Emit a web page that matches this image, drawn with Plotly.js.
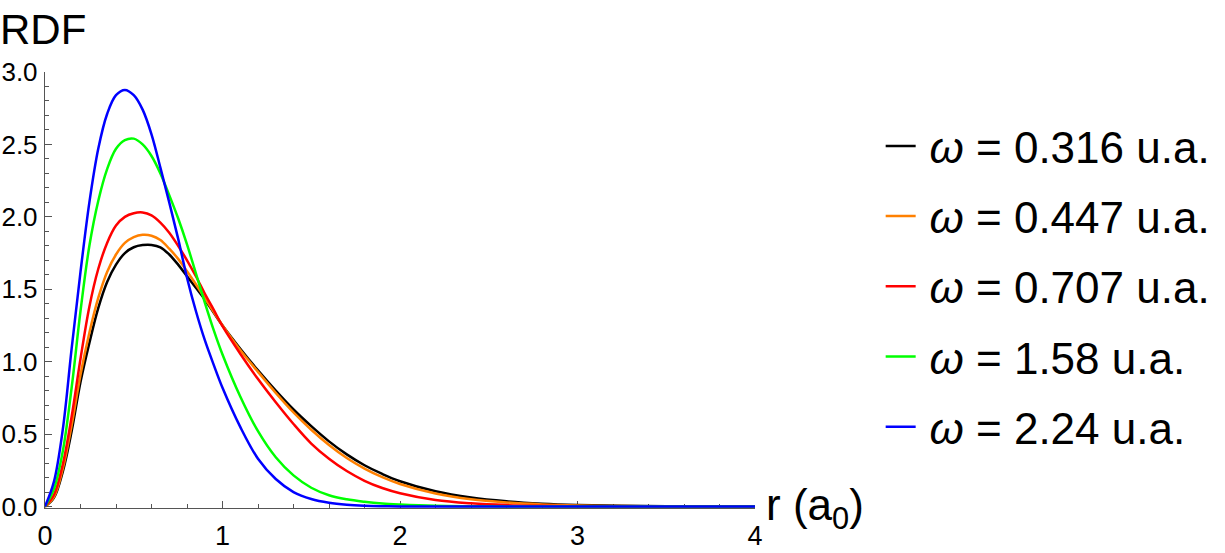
<!DOCTYPE html>
<html>
<head>
<meta charset="utf-8">
<script src="https://cdn.plot.ly/plotly-3.0.1.min.js"></script>
<style>
  html, body { margin: 0; padding: 0; background: #ffffff; }
  #chart { width: 1225px; height: 553px; }
</style>
</head>
<body>
<div id="chart"></div>
<script>
// radial grid (a0)
const r = [0, 0.05, 0.1, 0.15, 0.2, 0.25, 0.3, 0.35, 0.4, 0.45, 0.5, 0.55, 0.6, 0.65, 0.7, 0.75, 0.8, 0.85, 0.9, 0.95,
           1.0, 1.1, 1.2, 1.3, 1.4, 1.5, 1.6, 1.7, 1.8, 1.9, 2.0, 2.2, 2.4, 2.6, 2.8, 3.0, 3.25, 3.5, 3.75, 4.0];

const seriesNames = ["0.316", "0.447", "0.707", "1.58", "2.24"];
const seriesColors = ["#000000", "#ff8000", "#ff0000", "#00ff00", "#0000ff"];

const rdf_0316 = [0, 0.06, 0.24, 0.52, 0.86, 1.13, 1.37, 1.55, 1.67, 1.75, 1.79, 1.805, 1.806, 1.79, 1.74, 1.67, 1.59, 1.51, 1.43, 1.34,
                  1.25, 1.09, 0.94, 0.80, 0.67, 0.555, 0.45, 0.36, 0.285, 0.225, 0.175, 0.105, 0.062, 0.036, 0.02, 0.011, 0.005, 0.002, 0.001, 0];
const rdf_0447 = [0, 0.065, 0.26, 0.56, 0.91, 1.20, 1.44, 1.62, 1.74, 1.82, 1.86, 1.876, 1.87, 1.84, 1.78, 1.71, 1.625, 1.535, 1.44, 1.345,
                  1.25, 1.08, 0.93, 0.785, 0.65, 0.53, 0.425, 0.335, 0.262, 0.203, 0.156, 0.09, 0.05, 0.028, 0.015, 0.008, 0.003, 0.001, 0, 0];
const rdf_0707 = [0, 0.08, 0.29, 0.62, 1.02, 1.38, 1.64, 1.82, 1.94, 2.0, 2.025, 2.03, 2.01, 1.96, 1.89, 1.80, 1.70, 1.59, 1.47, 1.36,
                  1.245, 1.055, 0.88, 0.72, 0.57, 0.435, 0.33, 0.245, 0.178, 0.128, 0.092, 0.045, 0.022, 0.01, 0.005, 0.002, 0.001, 0, 0, 0];
const rdf_158  = [0, 0.12, 0.38, 0.82, 1.35, 1.80, 2.11, 2.33, 2.47, 2.53, 2.54, 2.50, 2.42, 2.30, 2.15, 1.99, 1.81, 1.61, 1.41, 1.22,
                  1.05, 0.76, 0.52, 0.34, 0.215, 0.13, 0.078, 0.05, 0.033, 0.021, 0.014, 0.005, 0.002, 0.001, 0, 0, 0, 0, 0, 0];
const rdf_224  = [0, 0.17, 0.53, 1.09, 1.62, 2.10, 2.47, 2.71, 2.84, 2.876, 2.84, 2.74, 2.57, 2.34, 2.10, 1.85, 1.58, 1.35, 1.15, 0.98,
                  0.82, 0.55, 0.33, 0.19, 0.10, 0.052, 0.026, 0.012, 0.005, 0.002, 0.001, 0, 0, 0, 0, 0, 0, 0, 0, 0];

const allSeries = [rdf_0316, rdf_0447, rdf_0707, rdf_158, rdf_224];

const xTicks = [0, 1, 2, 3, 4];
const yTicks = [0, 0.5, 1.0, 1.5, 2.0, 2.5, 3.0];

const traces = allSeries.map((vals, i) => ({
  x: r,
  y: vals,
  type: "scatter",
  mode: "lines",
  name: "\u2009<i>ω</i> = " + seriesNames[i] + " u.a.",
  legendgroup: "g" + i,
  line: { color: seriesColors[i], width: 2.5, shape: "spline", smoothing: 1.0 },
  hoverinfo: "skip"
}));

const axisColor = "#555555";
const FONT = "Liberation Sans, Arial, Helvetica, sans-serif";

const layout = {
  width: 1225,
  height: 553,
  margin: { l: 45, r: 470, t: 72, b: 45, pad: 0, autoexpand: false },
  paper_bgcolor: "#ffffff",
  plot_bgcolor: "#ffffff",
  font: { family: FONT, color: "#000000" },
  showlegend: true,
  legend: {
    x: 1.177, xanchor: "left",
    y: 0.911, yanchor: "top",
    font: { family: FONT, size: 44, color: "#000000" },
    tracegroupgap: 10,
    itemwidth: 30,
    bgcolor: "rgba(0,0,0,0)",
    borderwidth: 0
  },
  xaxis: {
    range: [0, 4],
    tickvals: xTicks,
    ticktext: xTicks.map(String),
    showline: true, linecolor: axisColor, linewidth: 1.2,
    ticks: "inside", ticklen: 7, tickwidth: 1, tickcolor: axisColor,
    minor: { dtick: 0.2, ticks: "inside", ticklen: 4, tickwidth: 1, tickcolor: axisColor, showgrid: false },
    showgrid: false, zeroline: false,
    tickfont: { family: FONT, size: 27, color: "#000000" },
    ticklabelstandoff: 3,
    layer: "below traces",
    fixedrange: true
  },
  yaxis: {
    range: [-0.01, 3.0],
    tickvals: yTicks,
    ticktext: yTicks.map(v => v.toFixed(1)),
    showline: true, linecolor: axisColor, linewidth: 1.2,
    ticks: "inside", ticklen: 7, tickwidth: 1, tickcolor: axisColor,
    minor: { dtick: 0.1, ticks: "inside", ticklen: 4, tickwidth: 1, tickcolor: axisColor, showgrid: false },
    showgrid: false, zeroline: false,
    tickfont: { family: FONT, size: 26, color: "#000000" },
    ticklabelstandoff: 1,
    layer: "below traces",
    fixedrange: true
  },
  annotations: [
    {
      text: "RDF", xref: "paper", yref: "paper",
      x: -47 / 710, xanchor: "left",
      y: 1.04, yanchor: "bottom",
      showarrow: false,
      font: { family: FONT, size: 42, color: "#000000" }
    },
    {
      text: "r (a<sub>0</sub>)", xref: "paper", yref: "paper",
      x: 1 + 9 / 710, xanchor: "left",
      y: 0.0, yanchor: "middle",
      showarrow: false,
      font: { family: FONT, size: 44, color: "#000000" }
    }
  ]
};

Plotly.newPlot("chart", traces, layout, { displayModeBar: false, staticPlot: true });
</script>
</body>
</html>
